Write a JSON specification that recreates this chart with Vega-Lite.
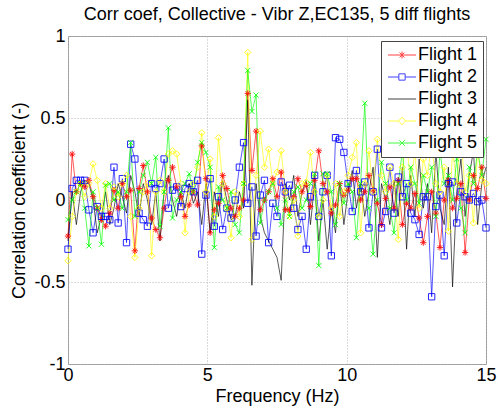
{
  "$schema": "https://vega.github.io/schema/vega-lite/v6.json",
  "width": 418,
  "height": 328,
  "autosize": "none",
  "padding": {"left": 68, "top": 36, "right": 12, "bottom": 48},
  "background": "white",
  "title": {
    "text": "Corr coef, Collective - Vibr Z,EC135, 5 diff flights",
    "font": "Liberation Sans",
    "fontSize": 18,
    "fontWeight": "normal",
    "color": "black",
    "anchor": "middle",
    "offset": 3
  },
  "config": {
    "view": {"stroke": "#999999", "strokeWidth": 1},
    "axis": {
      "domain": false,
      "ticks": false,
      "tickSize": 0,
      "labelFont": "Liberation Sans",
      "labelFontSize": 18,
      "labelColor": "black",
      "labelFlush": false,
      "labelOverlap": false,
      "titleFont": "Liberation Sans",
      "titleFontSize": 18,
      "titleFontWeight": "normal",
      "titleColor": "black",
      "gridColor": "#b4b4b4",
      "gridDash": [1, 2],
      "gridOpacity": 1
    },
    "legend": {
      "orient": "none",
      "legendX": 313,
      "legendY": 5,
      "padding": 5,
      "strokeColor": "#444444",
      "fillColor": "white",
      "labelFont": "Liberation Sans",
      "labelFontSize": 18,
      "labelColor": "black",
      "symbolSize": 196,
      "symbolStrokeWidth": 1,
      "symbolOffset": 0,
      "labelOffset": 14,
      "rowPadding": 4
    }
  },
  "data": {
    "values": [
      {"f": 0, "Flight 1": -0.22, "Flight 2": -0.3, "Flight 3": -0.25, "Flight 4": -0.37, "Flight 5": -0.12},
      {"f": 0.15, "Flight 1": 0.28, "Flight 2": 0.07, "Flight 3": 0.05, "Flight 4": -0.1, "Flight 5": 0.0},
      {"f": 0.3, "Flight 1": 0.05, "Flight 2": 0.12, "Flight 3": -0.15, "Flight 4": 0.05, "Flight 5": 0.05},
      {"f": 0.45, "Flight 1": 0.1, "Flight 2": 0.12, "Flight 3": 0.05, "Flight 4": 0.1, "Flight 5": 0.1},
      {"f": 0.6, "Flight 1": 0.08, "Flight 2": 0.12, "Flight 3": 0.12, "Flight 4": 0.02, "Flight 5": -0.05},
      {"f": 0.75, "Flight 1": 0.12, "Flight 2": -0.06, "Flight 3": 0.1, "Flight 4": 0.1, "Flight 5": -0.28},
      {"f": 0.9, "Flight 1": 0.02, "Flight 2": -0.2, "Flight 3": 0.0, "Flight 4": 0.22, "Flight 5": 0.05},
      {"f": 1.05, "Flight 1": -0.05, "Flight 2": -0.04, "Flight 3": -0.2, "Flight 4": 0.12, "Flight 5": -0.05},
      {"f": 1.2, "Flight 1": -0.12, "Flight 2": -0.1, "Flight 3": -0.1, "Flight 4": -0.05, "Flight 5": -0.27},
      {"f": 1.35, "Flight 1": -0.16, "Flight 2": -0.1, "Flight 3": 0.05, "Flight 4": 0.1, "Flight 5": 0.09},
      {"f": 1.5, "Flight 1": -0.08, "Flight 2": -0.12, "Flight 3": -0.15, "Flight 4": -0.05, "Flight 5": 0.1},
      {"f": 1.65, "Flight 1": 0.06, "Flight 2": 0.2, "Flight 3": -0.05, "Flight 4": 0.08, "Flight 5": 0.0},
      {"f": 1.8, "Flight 1": -0.05, "Flight 2": -0.14, "Flight 3": 0.1, "Flight 4": 0.02, "Flight 5": 0.05},
      {"f": 1.95, "Flight 1": 0.1, "Flight 2": 0.13, "Flight 3": 0.02, "Flight 4": 0.1, "Flight 5": -0.05},
      {"f": 2.1, "Flight 1": 0.02, "Flight 2": -0.26, "Flight 3": -0.08, "Flight 4": 0.15, "Flight 5": 0.05},
      {"f": 2.25, "Flight 1": 0.06, "Flight 2": 0.34, "Flight 3": 0.15, "Flight 4": -0.1, "Flight 5": 0.35},
      {"f": 2.4, "Flight 1": -0.31, "Flight 2": 0.25, "Flight 3": 0.05, "Flight 4": -0.35, "Flight 5": -0.1},
      {"f": 2.55, "Flight 1": 0.07, "Flight 2": -0.08, "Flight 3": -0.1, "Flight 4": -0.05, "Flight 5": 0.05},
      {"f": 2.7, "Flight 1": 0.21, "Flight 2": -0.12, "Flight 3": 0.1, "Flight 4": 0.05, "Flight 5": 0.15},
      {"f": 2.85, "Flight 1": 0.05, "Flight 2": -0.16, "Flight 3": 0.0, "Flight 4": 0.1, "Flight 5": 0.23},
      {"f": 3, "Flight 1": -0.11, "Flight 2": 0.1, "Flight 3": -0.15, "Flight 4": -0.34, "Flight 5": 0.1},
      {"f": 3.15, "Flight 1": -0.18, "Flight 2": 0.07, "Flight 3": 0.05, "Flight 4": 0.05, "Flight 5": 0.26},
      {"f": 3.3, "Flight 1": -0.23, "Flight 2": 0.1, "Flight 3": -0.25, "Flight 4": 0.12, "Flight 5": -0.16},
      {"f": 3.45, "Flight 1": -0.05, "Flight 2": 0.25, "Flight 3": 0.05, "Flight 4": 0.05, "Flight 5": 0.05},
      {"f": 3.6, "Flight 1": 0.12, "Flight 2": -0.05, "Flight 3": 0.15, "Flight 4": 0.28, "Flight 5": 0.44},
      {"f": 3.75, "Flight 1": 0.2, "Flight 2": 0.06, "Flight 3": 0.0, "Flight 4": 0.3, "Flight 5": -0.11},
      {"f": 3.9, "Flight 1": 0.08, "Flight 2": 0.08, "Flight 3": -0.1, "Flight 4": 0.28, "Flight 5": 0.0},
      {"f": 4.05, "Flight 1": 0.02, "Flight 2": -0.04, "Flight 3": 0.05, "Flight 4": 0.1, "Flight 5": 0.05},
      {"f": 4.2, "Flight 1": -0.1, "Flight 2": 0.07, "Flight 3": -0.05, "Flight 4": -0.2, "Flight 5": 0.1},
      {"f": 4.35, "Flight 1": -0.03, "Flight 2": 0.1, "Flight 3": 0.1, "Flight 4": 0.05, "Flight 5": 0.16},
      {"f": 4.5, "Flight 1": 0.05, "Flight 2": 0.05, "Flight 3": -0.02, "Flight 4": 0.1, "Flight 5": 0.05},
      {"f": 4.65, "Flight 1": -0.03, "Flight 2": 0.12, "Flight 3": 0.05, "Flight 4": 0.2, "Flight 5": 0.23},
      {"f": 4.8, "Flight 1": 0.33, "Flight 2": -0.33, "Flight 3": -0.15, "Flight 4": 0.41, "Flight 5": 0.35},
      {"f": 4.95, "Flight 1": 0.13, "Flight 2": 0.03, "Flight 3": 0.1, "Flight 4": 0.05, "Flight 5": 0.29},
      {"f": 5.1, "Flight 1": -0.2, "Flight 2": 0.13, "Flight 3": -0.2, "Flight 4": 0.25, "Flight 5": 0.2},
      {"f": 5.25, "Flight 1": -0.06, "Flight 2": -0.16, "Flight 3": 0.05, "Flight 4": -0.1, "Flight 5": -0.29},
      {"f": 5.4, "Flight 1": -0.02, "Flight 2": 0.02, "Flight 3": -0.1, "Flight 4": 0.38, "Flight 5": 0.08},
      {"f": 5.55, "Flight 1": 0.15, "Flight 2": -0.18, "Flight 3": 0.12, "Flight 4": 0.1, "Flight 5": 0.0},
      {"f": 5.7, "Flight 1": 0.07, "Flight 2": -0.05, "Flight 3": 0.0, "Flight 4": -0.05, "Flight 5": -0.05},
      {"f": 5.85, "Flight 1": -0.05, "Flight 2": -0.11, "Flight 3": -0.12, "Flight 4": -0.23, "Flight 5": 0.05},
      {"f": 6, "Flight 1": -0.1, "Flight 2": 0.0, "Flight 3": -0.1, "Flight 4": 0.05, "Flight 5": -0.15},
      {"f": 6.15, "Flight 1": -0.05, "Flight 2": 0.2, "Flight 3": 0.05, "Flight 4": -0.1, "Flight 5": -0.2},
      {"f": 6.3, "Flight 1": 0.0, "Flight 2": 0.35, "Flight 3": -0.05, "Flight 4": 0.1, "Flight 5": 0.1},
      {"f": 6.45, "Flight 1": 0.65, "Flight 2": -0.02, "Flight 3": 0.61, "Flight 4": 0.9, "Flight 5": 0.79},
      {"f": 6.6, "Flight 1": 0.18, "Flight 2": 0.08, "Flight 3": -0.52, "Flight 4": -0.24, "Flight 5": 0.54},
      {"f": 6.75, "Flight 1": 0.42, "Flight 2": -0.22, "Flight 3": 0.1, "Flight 4": 0.15, "Flight 5": 0.64},
      {"f": 6.9, "Flight 1": -0.06, "Flight 2": 0.03, "Flight 3": -0.1, "Flight 4": 0.42, "Flight 5": -0.14},
      {"f": 7.05, "Flight 1": 0.0, "Flight 2": 0.12, "Flight 3": -0.2, "Flight 4": 0.2, "Flight 5": 0.0},
      {"f": 7.2, "Flight 1": 0.05, "Flight 2": -0.26, "Flight 3": -0.25, "Flight 4": 0.31, "Flight 5": 0.05},
      {"f": 7.35, "Flight 1": 0.13, "Flight 2": -0.02, "Flight 3": -0.3, "Flight 4": 0.1, "Flight 5": 0.1},
      {"f": 7.5, "Flight 1": 0.02, "Flight 2": -0.1, "Flight 3": -0.35, "Flight 4": 0.17, "Flight 5": -0.05},
      {"f": 7.65, "Flight 1": 0.17, "Flight 2": 0.11, "Flight 3": -0.49, "Flight 4": 0.3, "Flight 5": -0.15},
      {"f": 7.8, "Flight 1": -0.06, "Flight 2": 0.05, "Flight 3": 0.1, "Flight 4": 0.05, "Flight 5": 0.0},
      {"f": 7.95, "Flight 1": -0.06, "Flight 2": 0.09, "Flight 3": 0.0, "Flight 4": -0.1, "Flight 5": -0.1},
      {"f": 8.1, "Flight 1": 0.02, "Flight 2": -0.05, "Flight 3": 0.15, "Flight 4": 0.0, "Flight 5": 0.05},
      {"f": 8.25, "Flight 1": 0.13, "Flight 2": -0.18, "Flight 3": -0.1, "Flight 4": -0.22, "Flight 5": 0.08},
      {"f": 8.4, "Flight 1": 0.05, "Flight 2": -0.1, "Flight 3": 0.05, "Flight 4": 0.1, "Flight 5": -0.05},
      {"f": 8.55, "Flight 1": 0.09, "Flight 2": -0.3, "Flight 3": 0.12, "Flight 4": 0.11, "Flight 5": 0.0},
      {"f": 8.7, "Flight 1": -0.04, "Flight 2": 0.02, "Flight 3": -0.15, "Flight 4": 0.29, "Flight 5": 0.1},
      {"f": 8.85, "Flight 1": 0.12, "Flight 2": 0.15, "Flight 3": 0.1, "Flight 4": 0.05, "Flight 5": 0.16},
      {"f": 9, "Flight 1": 0.3, "Flight 2": -0.1, "Flight 3": -0.25, "Flight 4": -0.1, "Flight 5": -0.4},
      {"f": 9.15, "Flight 1": 0.1, "Flight 2": 0.05, "Flight 3": 0.0, "Flight 4": 0.0, "Flight 5": 0.16},
      {"f": 9.3, "Flight 1": 0.05, "Flight 2": 0.15, "Flight 3": -0.3, "Flight 4": 0.15, "Flight 5": 0.16},
      {"f": 9.45, "Flight 1": -0.08, "Flight 2": -0.34, "Flight 3": -0.05, "Flight 4": -0.05, "Flight 5": 0.05},
      {"f": 9.6, "Flight 1": -0.03, "Flight 2": 0.38, "Flight 3": -0.2, "Flight 4": 0.1, "Flight 5": -0.15},
      {"f": 9.75, "Flight 1": 0.1, "Flight 2": 0.37, "Flight 3": 0.1, "Flight 4": -0.1, "Flight 5": 0.1},
      {"f": 9.9, "Flight 1": 0.03, "Flight 2": 0.29, "Flight 3": -0.15, "Flight 4": 0.05, "Flight 5": -0.02},
      {"f": 10.05, "Flight 1": 0.06, "Flight 2": 0.1, "Flight 3": 0.05, "Flight 4": 0.15, "Flight 5": 0.1},
      {"f": 10.2, "Flight 1": 0.13, "Flight 2": -0.07, "Flight 3": 0.18, "Flight 4": 0.26, "Flight 5": 0.05},
      {"f": 10.35, "Flight 1": 0.13, "Flight 2": 0.18, "Flight 3": -0.05, "Flight 4": 0.35, "Flight 5": -0.23},
      {"f": 10.5, "Flight 1": 0.0, "Flight 2": 0.05, "Flight 3": 0.1, "Flight 4": -0.2, "Flight 5": 0.1},
      {"f": 10.65, "Flight 1": 0.05, "Flight 2": 0.11, "Flight 3": -0.1, "Flight 4": 0.1, "Flight 5": 0.59},
      {"f": 10.8, "Flight 1": 0.15, "Flight 2": -0.17, "Flight 3": 0.05, "Flight 4": 0.3, "Flight 5": -0.05},
      {"f": 10.95, "Flight 1": 0.06, "Flight 2": 0.05, "Flight 3": 0.2, "Flight 4": 0.05, "Flight 5": -0.33},
      {"f": 11.1, "Flight 1": -0.02, "Flight 2": 0.31, "Flight 3": -0.35, "Flight 4": 0.37, "Flight 5": 0.0},
      {"f": 11.25, "Flight 1": -0.15, "Flight 2": -0.17, "Flight 3": 0.1, "Flight 4": 0.15, "Flight 5": 0.23},
      {"f": 11.4, "Flight 1": 0.01, "Flight 2": -0.07, "Flight 3": 0.0, "Flight 4": 0.05, "Flight 5": 0.1},
      {"f": 11.55, "Flight 1": 0.08, "Flight 2": 0.2, "Flight 3": -0.15, "Flight 4": 0.2, "Flight 5": -0.05},
      {"f": 11.7, "Flight 1": -0.05, "Flight 2": -0.08, "Flight 3": 0.12, "Flight 4": 0.1, "Flight 5": -0.2},
      {"f": 11.85, "Flight 1": 0.12, "Flight 2": 0.14, "Flight 3": -0.1, "Flight 4": -0.24, "Flight 5": 0.1},
      {"f": 12, "Flight 1": -0.15, "Flight 2": 0.02, "Flight 3": 0.2, "Flight 4": 0.2, "Flight 5": 0.3},
      {"f": 12.15, "Flight 1": -0.02, "Flight 2": 0.1, "Flight 3": -0.3, "Flight 4": 0.35, "Flight 5": 0.0},
      {"f": 12.3, "Flight 1": -0.05, "Flight 2": -0.08, "Flight 3": 0.15, "Flight 4": 0.1, "Flight 5": 0.2},
      {"f": 12.45, "Flight 1": 0.04, "Flight 2": -0.12, "Flight 3": -0.1, "Flight 4": 0.3, "Flight 5": 0.1},
      {"f": 12.6, "Flight 1": -0.11, "Flight 2": -0.21, "Flight 3": 0.25, "Flight 4": -0.05, "Flight 5": -0.02},
      {"f": 12.75, "Flight 1": -0.26, "Flight 2": 0.02, "Flight 3": -0.05, "Flight 4": 0.25, "Flight 5": 0.15},
      {"f": 12.9, "Flight 1": -0.1, "Flight 2": 0.02, "Flight 3": 0.1, "Flight 4": 0.15, "Flight 5": 0.05},
      {"f": 13.05, "Flight 1": 0.05, "Flight 2": -0.59, "Flight 3": -0.2, "Flight 4": 0.35, "Flight 5": 0.2},
      {"f": 13.2, "Flight 1": -0.08, "Flight 2": -0.04, "Flight 3": 0.3, "Flight 4": 0.1, "Flight 5": -0.1},
      {"f": 13.35, "Flight 1": -0.29, "Flight 2": 0.03, "Flight 3": -0.05, "Flight 4": 0.05, "Flight 5": 0.3},
      {"f": 13.5, "Flight 1": 0.0, "Flight 2": -0.34, "Flight 3": -0.15, "Flight 4": 0.2, "Flight 5": 0.1},
      {"f": 13.65, "Flight 1": 0.12, "Flight 2": 0.1, "Flight 3": 0.2, "Flight 4": -0.19, "Flight 5": 0.15},
      {"f": 13.8, "Flight 1": -0.05, "Flight 2": 0.11, "Flight 3": -0.53, "Flight 4": 0.3, "Flight 5": 0.0},
      {"f": 13.95, "Flight 1": 0.01, "Flight 2": -0.14, "Flight 3": 0.05, "Flight 4": 0.1, "Flight 5": 0.25},
      {"f": 14.1, "Flight 1": 0.1, "Flight 2": 0.05, "Flight 3": 0.25, "Flight 4": 0.4, "Flight 5": -0.05},
      {"f": 14.25, "Flight 1": -0.32, "Flight 2": 0.02, "Flight 3": -0.1, "Flight 4": 0.05, "Flight 5": -0.2},
      {"f": 14.4, "Flight 1": 0.0, "Flight 2": 0.0, "Flight 3": 0.15, "Flight 4": 0.15, "Flight 5": 0.2},
      {"f": 14.55, "Flight 1": 0.15, "Flight 2": 0.04, "Flight 3": 0.3, "Flight 4": -0.14, "Flight 5": 0.1},
      {"f": 14.7, "Flight 1": 0.07, "Flight 2": -0.01, "Flight 3": -0.15, "Flight 4": 0.3, "Flight 5": 0.3},
      {"f": 14.85, "Flight 1": 0.2, "Flight 2": 0.0, "Flight 3": 0.1, "Flight 4": 0.12, "Flight 5": 0.15},
      {"f": 15, "Flight 1": 0.01, "Flight 2": -0.17, "Flight 3": 0.2, "Flight 4": 0.1, "Flight 5": 0.37}
    ]
  },
  "transform": [
    {"fold": ["Flight 1", "Flight 2", "Flight 3", "Flight 4", "Flight 5"], "as": ["flight", "r"]}
  ],
  "encoding": {
    "x": {
      "field": "f",
      "type": "quantitative",
      "scale": {"domain": [0, 15], "nice": false, "zero": false},
      "axis": {
        "title": "Frequency (Hz)",
        "values": [0, 5, 10, 15],
        "labelPadding": 2,
        "titlePadding": 3,
        "grid": true
      }
    },
    "y": {
      "field": "r",
      "type": "quantitative",
      "scale": {"domain": [-1, 1], "nice": false},
      "axis": {
        "title": "Correlation coefficient (-)",
        "values": [-1, -0.5, 0, 0.5, 1],
        "labelExpr": "toString(datum.value)",
        "labelPadding": 3,
        "titlePadding": 5,
        "grid": true
      }
    }
  },
  "layer": [
    {
      "mark": {"type": "line", "strokeWidth": 1, "opacity": 0.65},
      "encoding": {
        "color": {
          "field": "flight",
          "type": "nominal",
          "scale": {
            "domain": ["Flight 1", "Flight 2", "Flight 3", "Flight 4", "Flight 5"],
            "range": ["#ff0000", "#0000ff", "#000000", "#ffff00", "#00ff00"]
          },
          "legend": null
        }
      }
    },
    {
      "transform": [{"filter": "datum.flight != 'Flight 3'"}],
      "mark": {"type": "point", "filled": false, "size": 40, "strokeWidth": 1, "opacity": 0.85},
      "encoding": {
        "color": {
          "field": "flight",
          "type": "nominal",
          "scale": {
            "domain": ["Flight 1", "Flight 2", "Flight 3", "Flight 4", "Flight 5"],
            "range": ["#ff0000", "#0000ff", "#000000", "#ffff00", "#00ff00"]
          },
          "legend": null
        },
        "shape": {
          "field": "flight",
          "type": "nominal",
          "scale": {
            "domain": ["Flight 1", "Flight 2", "Flight 3", "Flight 4", "Flight 5"],
            "range": [
              "M-1,0H1M0,-1V1M-0.7,-0.7L0.7,0.7M-0.7,0.7L0.7,-0.7",
              "square",
              "circle",
              "diamond",
              "M-0.8,-0.8L0.8,0.8M-0.8,0.8L0.8,-0.8"
            ]
          },
          "legend": null
        }
      }
    },
    {
      "transform": [{"filter": "datum.f < 0"}],
      "mark": {"type": "point", "filled": false, "opacity": 0.75},
      "encoding": {
        "color": {
          "field": "flight",
          "type": "nominal",
          "scale": {
            "domain": ["Flight 1", "Flight 2", "Flight 3", "Flight 4", "Flight 5"],
            "range": ["#ff0000", "#0000ff", "#000000", "#ffff00", "#00ff00"]
          },
          "legend": {"title": null}
        },
        "shape": {
          "field": "flight",
          "type": "nominal",
          "scale": {
            "domain": ["Flight 1", "Flight 2", "Flight 3", "Flight 4", "Flight 5"],
            "range": [
              "M-1,0H3M1,-0.5V0.5M0.65,-0.35L1.35,0.35M0.65,0.35L1.35,-0.35",
              "M-1,0H0.55M1.45,0H3M0.55,-0.45H1.45V0.45H0.55Z",
              "M-1,0H3",
              "M-1,0H0.5M1.5,0H3M1,-0.55L1.5,0L1,0.55L0.5,0Z",
              "M-1,0H3M0.6,-0.4L1.4,0.4M0.6,0.4L1.4,-0.4"
            ]
          },
          "legend": {"title": null}
        }
      }
    }
  ],
  "resolve": {"scale": {"color": "independent", "shape": "independent"}}
}
